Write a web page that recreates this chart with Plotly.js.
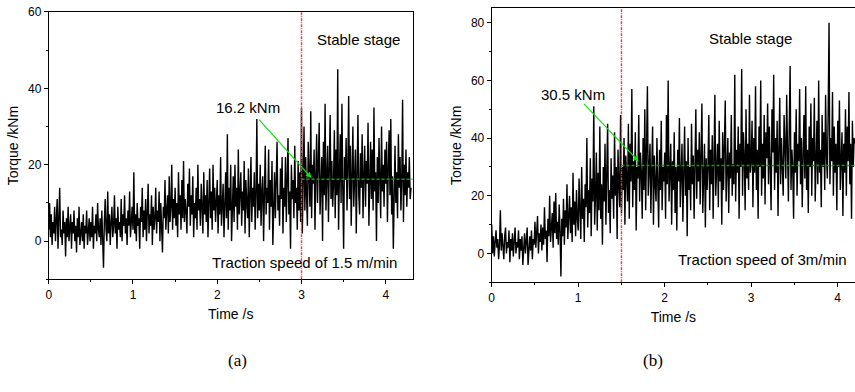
<!DOCTYPE html>
<html>
<head>
<meta charset="utf-8">
<script src="https://cdn.plot.ly/plotly-3.0.1.min.js"></script>
<style>html,body{margin:0;padding:0;background:#fff}#chart{width:855px;height:392px}</style>
</head>
<body>
<div id="chart"></div>
<script>
// Sampling step of the read-off series (s)
const timeStepA = 0.01;
const timeStepB = 0.01;

// Panel (a): torque (kNm), traction speed 1.5 m/min, t = 0 .. 4.30 s
const torqueA = [
  3, 10, 1, 7, -1, 5, 2, 9, 0, 4,
  11, -2, 6, 14, 1, 3, -1, 8, 2, 5,
  -4, 6, 1, 9, 0, 3, 7, -2, 5, 2,
  8, 0, 4, -3, 6, 1, 9, -1, 3, 5,
  0, 7, -2, 4, 2, 8, -1, 3, 6, 0,
  5, 1, 9, -2, 4, 2, 7, 0, 10, 3,
  1, 6, -1, 8, 2, -7, 5, 11, 3, 0,
  13, 2, 7, -1, 5, 9, 1, 4, 12, 2,
  6, -2, 9, 3, 5, 1, 11, 0, 7, 4,
  12, 2, 6, -1, 8, 4, 13, 1, 5, 9,
  3, 18, 2, 7, 0, 10, 4, 6, -2, 9,
  5, 14, 1, 8, 3, 11, 0, 6, 15, 2,
  7, 4, 12, -1, 9, 3, 6, 14, 2, 8,
  5, 13, 0, 10, 4, -3, 9, 6, 16, 3,
  8, 12, 2, 17, 5, 9, 20, 3, 11, 6,
  14, 4, 10, 1, 18, 7, 12, 3, 16, 6,
  21, 5, 11, 8, 2, 15, 9, 19, 4, 12,
  7, 17, 1, 10, 6, 14, 3, 20, 8, 11,
  4, 15, 9, 2, 18, 7, 12, 5, 16, 1,
  10, 19, 6, 13, 3, 20, 8, 14, 5, 11,
  16, 2, 12, 7, 22, 4, 10, 15, 1, 9,
  18, 6, 28, 3, 14, 8, 20, 0, 12, 17,
  5, 20, 9, 14, 3, 24, 7, 11, 18, 4,
  13, 8, 21, 2, 16, 10, 6, 19, 1, 12,
  22, 5, 14, 9, 18, 3, 12, 32, 6, 15,
  8, 20, 4, 13, 17, 0, 11, 25, 7, 14,
  10, 24, 3, 16, 9, 21, -1, 13, 18, 6,
  15, 26, 8, 12, 4, 19, 11, 22, 2, 14,
  9, 22, 5, 17, 27, 7, 13, -2, 20, 11,
  16, 6, 25, 10, 14, 3, 21, 8, 18, 5,
  35, 2, 18, 30, 8, 22, 12, 4, 26, 14,
  9, 34, 6, 20, 15, 24, 3, 17, 28, 10,
  19, 31, 7, 14, 22, 0, 26, 12, 36, 8,
  16, 25, 5, 18, 33, 11, 21, 9, 15, 29,
  6, 24, 12, 45, 3, 17, 28, 10, 36, 14,
  -2, 22, 16, 27, 8, 19, 38, 11, 25, 4,
  18, 30, 9, 15, 24, 2, 20, 33, 12, 7,
  23, 14, 28, 6, 17, 25, 9, 21, 15, 31,
  4, 19, 26, 11, 24, 8, 35, 13, 18, 0,
  22, 10, 27, 16, 6, 30, 13, 20, 9, 24,
  15, 26, 5, 19, 29, 12, 32, 7, 17, -2,
  21, 25, 10, 18, 6, 28, 14, 22, 8, 16,
  37, 5, 20, 12, 24, 9, 18, 14, 22, 11,
  14
];

// Panel (b): torque (kNm), traction speed 3 m/min, t = 0 .. 4.20 s
const torqueB = [
  10, 0, 6, -1, 4, 8, 2, 5, -2, 3,
  15, 1, 7, 3, -2, 6, 9, 0, 4, 2,
  8, -3, 5, 1, 7, -1, 3, 9, 0, 4,
  2, 8, -2, 5, 1, 6, -4, 3, 7, 0,
  4, 9, -4, 2, 6, 1, 8, -2, 5, 3,
  11, 2, 6, 13, 0, 7, 4, 10, 1, 9,
  3, 16, 5, 8, -3, 12, 6, 20, 4, 10,
  14, 2, 18, 7, 21, 5, 11, 3, 17, 8,
  -8, 12, 6, 19, 3, 15, 9, 24, 5, 13,
  20, 7, 16, 4, 28, 10, 18, 6, 22, 12,
  8, 26, 14, 5, 30, 12, 19, 4, 24, 16,
  40, 9, 22, 14, 33, 6, 26, 18, 51, 10,
  20, 35, 8, 28, 15, 44, 12, 24, 3, 30,
  18, 38, 10, 26, 45, 14, 22, 7, 33, 19,
  27, 12, 42, 20, 30, 5, 36, 24, 16, 48,
  14, 30, 22, 40, 10, 34, 26, 18, 45, 12,
  38, 25, 57, 16, 32, 22, 42, 8, 30, 26,
  48, 18, 35, 28, 12, 40, 22, 50, 15, 33,
  58, 20, 30, 38, 14, 26, 44, 10, 34, 24,
  18, 40, 28, 9, 36, 22, 46, 15, 30, 25,
  35, 12, 48, 24, 60, 18, 28, 38, 10, 32,
  22, 42, 14, 30, 8, 36, 25, 47, 16, 28,
  38, 11, 26, 44, 20, 32, 6, 40, 22, 30,
  15, 45, 24, 34, 12, 28, 50, 19, 36, 25,
  42, 17, 30, 52, 14, 26, 38, 9, 33, 22,
  30, 48, 15, 36, 24, 41, 12, 32, 55, 20,
  28, 38, 16, 46, 25, 33, 10, 42, 22, 36,
  53, 18, 30, 40, 14, 35, 26, 48, 20, 31,
  24, 62, 18, 36, 28, 44, 12, 38, 30, 64,
  20, 42, 34, 15, 50, 26, 38, 22, 55, 28,
  32, 46, 16, 40, 28, 58, 22, 36, 12, 44,
  30, 60, 20, 38, 26, 48, 17, 42, 33, 52,
  24, 44, 30, 15, 50, 35, 62, 22, 40, 28,
  46, 13, 36, 54, 24, 40, 30, 20, 48, 34,
  26, 55, 38, 18, 44, 65, 22, 36, 30, 12,
  42, 28, 50, 20, 38, 32, 57, 24, 40, 16,
  34, 48, 26, 58, 22, 36, 14, 44, 30, 52,
  20, 40, 32, 54, 18, 38, 46, 24, 60, 28,
  36, 16, 48, 30, 42, 22, 55, 34, 26, 50,
  80, 24, 40, 32, 56, 20, 44, 28, 38, 15,
  46, 30, 53, 22, 36, 42, 13, 38, 28, 50,
  20, 44, 32, 56, 24, 38, 12, 46, 30, 40,
  38
];

// Reference markers
const stableStartA = 3.0, stableMeanA = 16.2, xEndA = 4.32;
const stableStartB = 1.5, stableMeanB = 30.5, xEndB = 4.2;
const meanLabelA = "16.2 kNm", meanLabelB = "30.5 kNm";
const speedLabelA = "Traction speed of 1.5 m/min", speedLabelB = "Traction speed of 3m/min";
const stageLabel = "Stable stage";

const font = "Liberation Sans, Arial, sans-serif";

const traces = [
  {x0: 0, dx: timeStepA, y: torqueA, type: "scatter", mode: "lines",
   line: {color: "#000", width: 1.4}, xaxis: "x", yaxis: "y", hoverinfo: "skip"},
  {x0: 0, dx: timeStepB, y: torqueB, type: "scatter", mode: "lines",
   line: {color: "#000", width: 1.4}, xaxis: "x2", yaxis: "y2", hoverinfo: "skip"}
];

function xAxis(domain, range, anchor) {
  return {domain: domain, range: range, anchor: anchor, dtick: 1, tick0: 0,
    showline: true, linecolor: "#000", linewidth: 1, mirror: true,
    ticks: "outside", ticklen: 4, tickcolor: "#000",
    minor: {dtick: 0.5, ticks: "outside", ticklen: 2, tickcolor: "#000"},
    showgrid: false, zeroline: false,
    tickfont: {family: font, size: 12, color: "#000"},
    title: {text: "Time /s", font: {family: font, size: 14, color: "#000"}, standoff: 8}};
}
function yAxis(domain, range, anchor) {
  return {domain: domain, range: range, anchor: anchor, dtick: 20, tick0: 0,
    showline: true, linecolor: "#000", linewidth: 1, mirror: true,
    ticks: "outside", ticklen: 4, tickcolor: "#000",
    minor: {dtick: 10, ticks: "outside", ticklen: 2, tickcolor: "#000"},
    showgrid: false, zeroline: false,
    tickfont: {family: font, size: 12, color: "#000"},
    title: {text: "Torque /kNm", font: {family: font, size: 14, color: "#000"}, standoff: 6}};
}

const annFont = {family: font, size: 15, color: "#000"};
const redLine = {color: "#f03c3c", width: 1.4, dash: "3px,1px,1px,1px"};
const greenLine = {color: "#00a800", width: 1.4, dash: "3px,2px"};

const layout = {
  width: 855, height: 392,
  margin: {l: 0, r: 0, t: 0, b: 0},
  paper_bgcolor: "#fff", plot_bgcolor: "#fff",
  showlegend: false,
  xaxis: xAxis([0.057, 0.4827], [0, xEndA], "y"),
  yaxis: yAxis([0.2875, 0.9694], [-10, 60], "x"),
  xaxis2: xAxis([0.5751, 1.0], [0, xEndB], "y2"),
  yaxis2: yAxis([0.2798, 0.9788], [-10, 85], "x2"),
  shapes: [
    {type: "line", layer: "above", xref: "x", yref: "y domain", x0: stableStartA, x1: stableStartA, y0: 0, y1: 1, line: redLine},
    {type: "line", layer: "above", xref: "x", yref: "y", x0: stableStartA, x1: xEndA, y0: stableMeanA, y1: stableMeanA, line: greenLine},
    {type: "line", layer: "above", xref: "x2", yref: "y2 domain", x0: stableStartB, x1: stableStartB, y0: 0, y1: 1, line: redLine},
    {type: "line", layer: "above", xref: "x2", yref: "y2", x0: stableStartB, x1: xEndB, y0: stableMeanB, y1: stableMeanB, line: greenLine}
  ],
  annotations: [
    {xref: "x", yref: "y", x: 3.68, y: 52.8, text: stageLabel, showarrow: false, font: annFont},
    {xref: "x", yref: "y", x: 3.03, y: -5.5, text: speedLabelA, showarrow: false, font: annFont},
    {xref: "x", yref: "y", x: 2.36, y: 35.0, text: meanLabelA, showarrow: false, font: annFont},
    {xref: "x", yref: "y", x: 3.12, y: 16.5, ax: 2.48, ay: 32.2, axref: "x", ayref: "y",
     text: "", showarrow: true, arrowhead: 2, arrowsize: 1, arrowwidth: 1.2, arrowcolor: "#10e010"},
    {xref: "x2", yref: "y2", x: 2.99, y: 74.5, text: stageLabel, showarrow: false, font: annFont},
    {xref: "x2", yref: "y2", x: 3.125, y: -2.0, text: speedLabelB, showarrow: false, font: annFont},
    {xref: "x2", yref: "y2", x: 0.94, y: 55.1, text: meanLabelB, showarrow: false, font: annFont},
    {xref: "x2", yref: "y2", x: 1.70, y: 31.9, ax: 1.05, ay: 52.4, axref: "x2", ayref: "y2",
     text: "", showarrow: true, arrowhead: 2, arrowsize: 1, arrowwidth: 1.2, arrowcolor: "#10e010"},
    {xref: "paper", yref: "paper", x: 226 / 855, y: 1 - 372 / 392, text: "(a)", showarrow: false,
     font: {family: "Liberation Serif, Times New Roman, serif", size: 17, color: "#000"}},
    {xref: "paper", yref: "paper", x: 665 / 855, y: 1 - 372 / 392, text: "(b)", showarrow: false,
     font: {family: "Liberation Serif, Times New Roman, serif", size: 17, color: "#000"}}
  ]
};

Plotly.newPlot("chart", traces, layout, {staticPlot: true, displayModeBar: false});
</script>
</body>
</html>
